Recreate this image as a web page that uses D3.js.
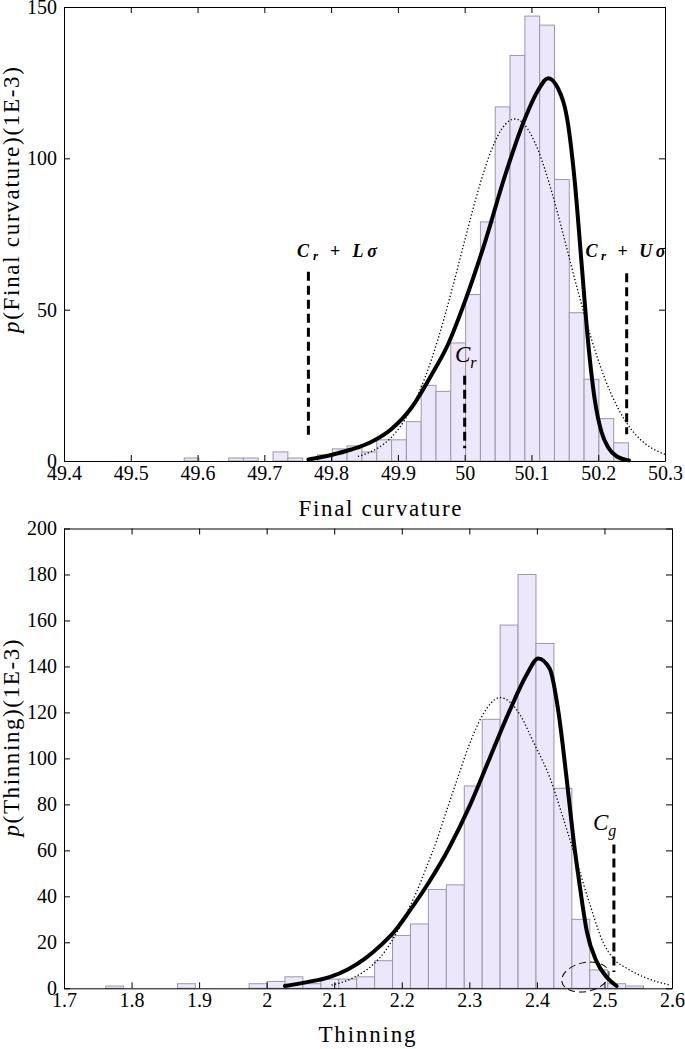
<!DOCTYPE html>
<html><head><meta charset="utf-8">
<script src="https://cdn.jsdelivr.net/npm/d3@7"></script>
<style>
html,body{margin:0;padding:0;background:#fff;}
svg{display:block;}
</style></head><body>
<svg id="c" width="685" height="1049"></svg>
<script>
// ================= DATA =================
// Panel 1: Final curvature (histogram counts per 1000 samples, 30 bins)
const curvBinStart = 49.58;
const curvBinWidth = 0.02218;
const curvCounts = [1,0,0,1,1,0,3,1,0,2,4,5,3,7,7,13,25,23,39,55,79,117,134,147,144,93,49,27,14,6];
const curvTicksX = [49.4,49.5,49.6,49.7,49.8,49.9,50,50.1,50.2,50.3];
const curvTicksY = [0,50,100,150];
// skewed fit (bold line)
const curvFitX = [49.766,49.80,49.83,49.86,49.89,49.92,49.95,49.975,50.00,50.03,50.06,50.09,50.11,50.125,50.14,50.155,50.165,50.175,50.185,50.195,50.205,50.215,50.228,50.246];
const curvFitY = [0.5,2.0,3.8,6.3,10.5,17.5,28.3,38.5,52.5,72,94,113,122.5,126.5,123,111,92,65.5,39,20,9.5,4.5,1.5,0.2];
// normal fit (dotted line)
const curvNormX = [49.84,49.86,49.88,49.90,49.92,49.94,49.96,49.98,50.00,50.02,50.04,50.06,50.075,50.09,50.11,50.13,50.15,50.17,50.19,50.21,50.23,50.25,50.27,50.30];
const curvNormY = [1.5,3.1,5.8,10.3,17.3,27.2,40.2,55.8,72.8,89.2,102.7,111,113,111,102.7,89.2,72.8,55.8,40.2,27.2,17.3,10.3,5.8,2.2];
// dashed markers: Cr+Lσ, Cr, Cr+Uσ
const curvMarkX  = [49.766, 50.0, 50.2426];
const curvMarkLo = [7.5, 4.2, 8.8];
const curvMarkHi = [62.5, 28.2, 62.0];

// Panel 2: Thinning
const thinBinStart = 1.7617;
const thinBinWidth = 0.02654;
const thinCounts = [1,0,0,0,2,0,0,0,2,3,5,2,4,4,5,12,23,28,43,45,88,117,158,180,150,87,30,8,2,1];
const thinTicksX = [1.7,1.8,1.9,2,2.1,2.2,2.3,2.4,2.5,2.6];
const thinTicksY = [0,20,40,60,80,100,120,140,160,180,200];
const thinFitX = [2.027,2.06,2.094,2.12,2.145,2.17,2.19,2.21,2.24,2.27,2.30,2.33,2.36,2.385,2.402,2.419,2.432,2.444,2.454,2.464,2.474,2.4885,2.503,2.518];
const thinFitY = [1.0,2.7,5.0,8.2,12.8,19,25,33,46,61,79,100,121,136.5,143.5,139,120,91.3,65.2,43.5,24.6,11.6,5.0,1.0];
const thinNormX = [2.096,2.12,2.14,2.158,2.175,2.19,2.205,2.222,2.237,2.252,2.266,2.281,2.30,2.32,2.3454,2.36,2.375,2.395,2.42,2.44,2.459,2.479,2.498,2.513,2.533,2.5575,2.597];
const thinNormY = [1.4,3.5,6.5,10.5,16,23,31.5,42,53,64.5,77,90,106,119,126.5,124.5,119,107,91,73,55,36,20,13,8.7,5,1.4];
const thinMarkX  = [2.514];
const thinMarkLo = [7.1];
const thinMarkHi = [62.5];

// ================= DRAW =================
const svg = d3.select("#c");
const FONT = '"Liberation Serif", "Times New Roman", serif';

function drawPanel(o){
  const x = d3.scaleLinear().domain(o.xDomain).range([o.left, o.right]);
  const y = d3.scaleLinear().domain(o.yDomain).range([o.bottom, o.top]);
  const g = svg.append("g");

  const bins = o.counts.map((c,i)=>({c, lo:o.binStart+i*o.binWidth, hi:o.binStart+(i+1)*o.binWidth})).filter(d=>d.c>0);
  g.selectAll("rect.bar").data(bins).join("rect")
    .attr("class","bar")
    .attr("x", d=>x(d.lo)).attr("width", d=>x(d.hi)-x(d.lo))
    .attr("y", d=>y(d.c)).attr("height", d=>y(0)-y(d.c))
    .attr("fill","#ece7fa").attr("stroke","#9c98a4").attr("stroke-width",1);

  const line = d3.line().x(d=>x(d[0])).y(d=>y(d[1])).curve(d3.curveMonotoneX);
  g.append("path").datum(d3.zip(o.normX,o.normY)).attr("d",line)
    .attr("fill","none").attr("stroke","#000").attr("stroke-width",1.3).attr("stroke-dasharray","1.3,2.2");
  g.append("path").datum(d3.zip(o.fitX,o.fitY)).attr("d",line)
    .attr("fill","none").attr("stroke","#000").attr("stroke-width",4).attr("stroke-linecap","round");

  o.markX.forEach((mx,i)=>{
    g.append("line").attr("x1",x(mx)).attr("x2",x(mx))
      .attr("y1",y(o.markHi[i])).attr("y2",y(o.markLo[i]))
      .attr("stroke","#000").attr("stroke-width",3).attr("stroke-dasharray","9,5");
  });

  const ax = (gen, tr)=> g.append("g").attr("transform",tr).call(gen)
      .call(s=>s.selectAll("text").attr("fill","#000").style("font-family",FONT).style("font-size","20px"));
  ax(d3.axisBottom(x).tickValues(o.ticksX).tickFormat(d=>String(d)).tickSizeInner(-6).tickSizeOuter(0).tickPadding(5), `translate(0,${o.bottom})`);
  ax(d3.axisTop(x).tickValues(o.ticksX).tickFormat("").tickSizeInner(-6).tickSizeOuter(0), `translate(0,${o.top})`);
  ax(d3.axisLeft(y).tickValues(o.ticksY).tickFormat(d=>String(d)).tickSizeInner(-6).tickSizeOuter(0).tickPadding(7), `translate(${o.left},0)`);
  ax(d3.axisRight(y).tickValues(o.ticksY).tickFormat("").tickSizeInner(-6).tickSizeOuter(0), `translate(${o.right},0)`);
  return {x,y,g};
}

const P1 = drawPanel({xDomain:[49.4,50.3], yDomain:[0,150], left:64, right:665, top:7, bottom:461,
  binStart:curvBinStart, binWidth:curvBinWidth, counts:curvCounts, ticksX:curvTicksX, ticksY:curvTicksY,
  fitX:curvFitX, fitY:curvFitY, normX:curvNormX, normY:curvNormY, markX:curvMarkX, markLo:curvMarkLo, markHi:curvMarkHi});

const P2 = drawPanel({xDomain:[1.7,2.6], yDomain:[0,200], left:64, right:672, top:528.5, bottom:988.3,
  binStart:thinBinStart, binWidth:thinBinWidth, counts:thinCounts, ticksX:thinTicksX, ticksY:thinTicksY,
  fitX:thinFitX, fitY:thinFitY, normX:thinNormX, normY:thinNormY, markX:thinMarkX, markLo:thinMarkLo, markHi:thinMarkHi});

// axis titles
function xTitle(txt, cx, by, len){
  svg.append("text").attr("x",cx).attr("y",by).attr("text-anchor","middle")
    .style("font-family",FONT).style("font-size","23px")
    .attr("textLength",len).attr("lengthAdjust","spacing").text(txt);
}
function yTitle(txt, bx, cy, len){
  const t = svg.append("text").attr("transform",`translate(${bx},${cy}) rotate(-90)`)
    .attr("text-anchor","middle").style("font-family",FONT).style("font-size","23px")
    .attr("textLength",len).attr("lengthAdjust","spacing");
  t.append("tspan").style("font-style","italic").text("p");
  t.append("tspan").text(txt);
}
xTitle("Final curvature", 380, 516, 163);
xTitle("Thinning", 367, 1042, 97);
yTitle("(Final curvature)(1E-3)", 19, 200, 266);
yTitle("(Thinning)(1E-3)", 19, 738, 197);

// math annotations
function sigmaLabel(px, by, letter){
  const t = svg.append("text").attr("x",px).attr("y",by)
    .style("font-family",FONT).style("font-size","18px").style("font-weight","bold")
    .attr("textLength",80).attr("lengthAdjust","spacing");
  t.append("tspan").style("font-style","italic").text("C");
  t.append("tspan").style("font-style","italic").style("font-size","13px").attr("dy",3).text("r");
  t.append("tspan").attr("dy",-3).text(" + ");
  t.append("tspan").style("font-style","italic").text(letter);
  t.append("tspan").style("font-style","italic").text("σ");
}
sigmaLabel(P1.x(49.749), P1.y(67.4), "L");
sigmaLabel(P1.x(50.181), P1.y(67.4), "U");

function subLabel(px, by, sub){
  const t = svg.append("text").attr("x",px).attr("y",by)
    .style("font-family",FONT).style("font-size","23px").style("font-style","italic");
  t.append("tspan").text("C");
  t.append("tspan").style("font-size","16px").attr("dy",6).text(sub);
}
subLabel(P1.x(49.9855), P1.y(32.7), "r");
subLabel(P2.x(2.483), P2.y(68.8), "g");

// dashed ellipse highlighting the tail
const ecx = P2.x(2.4719), ecy = P2.y(4.9);
svg.append("ellipse").attr("cx",ecx).attr("cy",ecy)
  .attr("rx", P2.x(2.5074)-P2.x(2.4719)).attr("ry", P2.y(0)-P2.y(6.3))
  .attr("transform",`rotate(-12,${ecx},${ecy})`)
  .attr("fill","none").attr("stroke","#000").attr("stroke-width",1).attr("stroke-dasharray","7,4");
</script>
</body></html>
